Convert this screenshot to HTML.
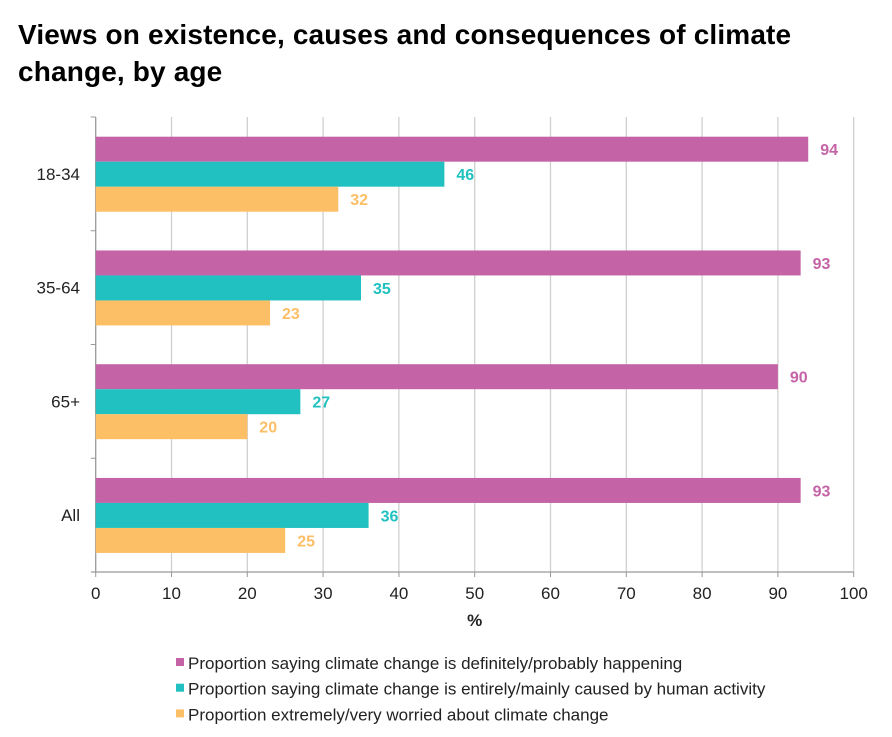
<!DOCTYPE html>
<html><head><meta charset="utf-8"><style>
body{margin:0;background:#fff;font-family:"Liberation Sans",sans-serif;}
#wrap{position:relative;width:892px;height:737px;overflow:hidden;}
h1{position:absolute;left:18px;top:16px;margin:0;font-size:28px;line-height:37px;font-weight:bold;color:#000;letter-spacing:0.15px;}
</style></head><body>
<div id="wrap">
<h1>Views on existence, causes and consequences of climate<br>change, by age</h1>
<svg id="chart" width="892" height="737" style="position:absolute;left:0;top:0"></svg>
</div>
<script>
const categories=["18-34","35-64","65+","All"];
const happening=[94,93,90,93];
const humanCaused=[46,35,27,36];
const worried=[32,23,20,25];
const xTicks=[0,10,20,30,40,50,60,70,80,90,100];
const seriesNames=["Proportion saying climate change is definitely/probably happening","Proportion saying climate change is entirely/mainly caused by human activity","Proportion extremely/very worried about climate change"];

const NS="http://www.w3.org/2000/svg";
const svg=document.getElementById('chart');
const X0=95.7,PX=7.58,TOP=117,BOT=572;
const band=(BOT-TOP)/categories.length,barH=25,off=19.7;
const colors=["#c464a6","#20c1c0","#fcbf66"];
const series=[happening,humanCaused,worried];
const sx=v=>X0+v*PX;
function mk(tag,attrs){const e=document.createElementNS(NS,tag);for(const k in attrs)e.setAttribute(k,attrs[k]);svg.appendChild(e);return e;}
xTicks.forEach(t=>{
  if(t>0){const g=mk('line',{x1:sx(t),x2:sx(t),y1:TOP,y2:BOT,stroke:'#d0d0d0','stroke-width':1.3});
  
  }
  const tk=mk('line',{x1:sx(t),x2:sx(t),y1:BOT,y2:BOT+5,stroke:'#999','stroke-width':1});
  
  
  const l=mk('text',{x:sx(t),y:BOT+27,'text-anchor':'middle','font-size':17,fill:'#222'});
  l.textContent=t;
  
  
});
const ya=mk('line',{x1:X0,x2:X0,y1:TOP,y2:BOT,stroke:'#999','stroke-width':1.3});


const xa=mk('line',{x1:X0-4,x2:sx(100),y1:BOT,y2:BOT,stroke:'#999','stroke-width':1.3});


for(let i=0;i<=categories.length;i++){
  const y=TOP+i*band;
  const t=mk('line',{x1:X0-5,x2:X0,y1:y,y2:y,stroke:'#999','stroke-width':1});
  
  
}
categories.forEach((c,i)=>{
  const bt=TOP+i*band;
  const l=mk('text',{x:80,y:bt+band/2+6,'text-anchor':'end','font-size':17,fill:'#222'});
  l.textContent=c;
  
  
  series.forEach((s,j)=>{
    const y=bt+off+j*barH;
    const r=mk('rect',{x:X0,y:y,width:s[i]*PX,height:barH,fill:colors[j]});
    
    
    const v=mk('text',{x:sx(s[i])+12,y:y+barH/2+6,'font-size':16,'font-weight':'bold',fill:colors[j]});
    v.textContent=s[i];
    
    
  });
});
const xt=mk('text',{x:sx(50),y:626,'text-anchor':'middle','font-size':17,'font-weight':'bold',fill:'#222'});
xt.textContent='%';


seriesNames.forEach((n,j)=>{
  const y=669+j*25.7;
  const s=mk('rect',{x:176,y:y-11,width:8,height:8,fill:colors[j]});
  
  
  const t=mk('text',{x:188,y:y,'font-size':17,fill:'#222'});
  t.textContent=n;
  
  
});
</script>
</body></html>
